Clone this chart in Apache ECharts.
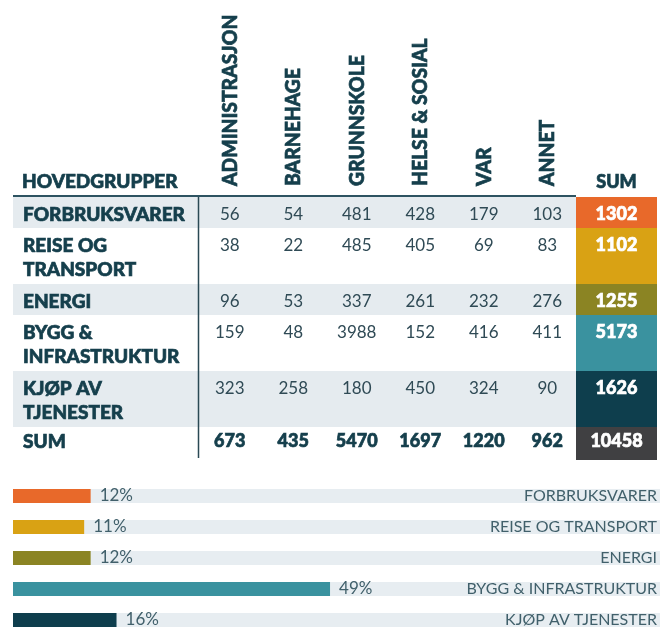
<!DOCTYPE html>
<html><head><meta charset="utf-8">
<script src="https://cdn.jsdelivr.net/npm/echarts@6/dist/echarts.min.js"></script>
<style>html,body{margin:0;padding:0;background:#fff}#c{width:661px;height:628px}</style>
</head><body><div id="c"></div>
<script>
// ---------- data ----------
const columns = ['ADMINISTRASJON', 'BARNEHAGE', 'GRUNNSKOLE', 'HELSE & SOSIAL', 'VAR', 'ANNET'];
const groups = ['FORBRUKSVARER', 'REISE OG TRANSPORT', 'ENERGI', 'BYGG & INFRASTRUKTUR', 'KJØP AV TJENESTER'];
const groupLabels = ['FORBRUKSVARER', 'REISE OG\nTRANSPORT', 'ENERGI', 'BYGG &\nINFRASTRUKTUR', 'KJØP AV\nTJENESTER'];
const forbruksvarer = [56, 54, 481, 428, 179, 103];
const reiseOgTransport = [38, 22, 485, 405, 69, 83];
const energi = [96, 53, 337, 261, 232, 276];
const byggInfrastruktur = [159, 48, 3988, 152, 416, 411];
const kjopAvTjenester = [323, 258, 180, 450, 324, 90];
const rowSums = [1302, 1102, 1255, 5173, 1626];
const columnSums = [673, 435, 5470, 1697, 1220, 962];
const grandTotal = 10458;
const sharePercent = [12, 11, 12, 49, 16];
const headerLabel = 'HOVEDGRUPPER';
const sumLabel = 'SUM';

// ---------- styles / layout ----------
const C = {
  orange: '#e8692a', gold: '#d9a214', olive: '#8b8423', teal: '#3a929f', navy: '#0e3e4d',
  gray: '#404042', band: '#e5ebef', track: '#e7edf1', ink: '#153f4c', num: '#2f4a55', soft: '#41606b'
};
const groupColors = [C.orange, C.gold, C.olive, C.teal, C.navy];
const T = {
  left: 13, sumLeft: 576, sumRight: 657, top: 197, colStart: 198, colWidth: 63.5,
  h1: 31, h2: 56, hSum: 33, firstLine: 17.5, sumLine: 14.5, lineH: 24,
  headerBase: 186, labelPad: 10, heavy: 0.7
};
const FONT = 'Lato, "Open Sans", sans-serif';
const heavyStyle = (fill) => ({ fill: fill, stroke: fill, lineWidth: T.heavy });

const rowValues = [forbruksvarer, reiseOgTransport, energi, byggInfrastruktur, kjopAvTjenester];
const rowLines = groupLabels.map(s => s.split('\n').length);
const rowHeights = rowLines.map(n => n > 1 ? T.h2 : T.h1).concat([T.hSum]);
const rowTops = [];
let acc = 0;
rowHeights.forEach(h => { rowTops.push(acc); acc += h; });
const tableHeight = acc;
const lineOffset = i => (i < groups.length ? T.firstLine : T.sumLine);

const cellData = [];
rowValues.concat([columnSums]).forEach((vals, r) => vals.forEach((v, c) => cellData.push([c, r, v])));

const chart = echarts.init(document.getElementById('c'), null, { renderer: 'canvas' });
chart.setOption({
  animation: false,
  grid: [
    { left: T.colStart, top: T.top, width: columns.length * T.colWidth, height: tableHeight },
    { left: 13, right: 1, top: 496, height: 124 }
  ],
  xAxis: [
    { gridIndex: 0, type: 'value', min: -0.5, max: columns.length - 0.5, show: false },
    { gridIndex: 1, type: 'value', min: 0, max: 100, show: false }
  ],
  yAxis: [
    { gridIndex: 0, type: 'value', min: 0, max: tableHeight, inverse: true, show: false },
    {
      gridIndex: 1, type: 'category', data: groups, inverse: true, position: 'right', z: 10, boundaryGap: false,
      axisLine: { show: false }, axisTick: { show: false }, splitLine: { show: false },
      axisLabel: { inside: true, margin: 3, color: C.soft, fontFamily: FONT, fontSize: 16, fontWeight: 400 }
    }
  ],
  series: [
    { // rows: band, label, sum cell
      type: 'custom', xAxisIndex: 0, yAxisIndex: 0, silent: true,
      data: groupLabels.concat([sumLabel]).map((l, i) => [i]),
      renderItem: function (params, api) {
        const i = params.dataIndex;
        const yTop = api.coord([0, rowTops[i]])[1];
        const h = api.size([0, rowHeights[i]])[1];
        const ty = yTop + lineOffset(i);
        const label = i < groups.length ? groupLabels[i] : sumLabel;
        const ch = [];
        if (i % 2 === 0 && i < groups.length) {
          ch.push({ type: 'rect', shape: { x: T.left, y: yTop, width: T.sumLeft - T.left, height: h }, style: { fill: C.band } });
        }
        ch.push({ type: 'text', style: Object.assign({ text: label, x: T.left + T.labelPad, y: ty - T.lineH / 2, verticalAlign: 'top', lineHeight: T.lineH, font: '900 19px ' + FONT }, heavyStyle(C.ink)) });
        ch.push({ type: 'rect', shape: { x: T.sumLeft, y: yTop, width: T.sumRight - T.sumLeft, height: h }, style: { fill: i < groups.length ? groupColors[i] : C.gray } });
        ch.push({ type: 'text', style: Object.assign({ text: String(i < groups.length ? rowSums[i] : grandTotal), x: (T.sumLeft + T.sumRight) / 2, y: ty, align: 'center', verticalAlign: 'middle', font: '900 18px ' + FONT }, heavyStyle('#ffffff')) });
        return { type: 'group', children: ch };
      }
    },
    { // value cells
      type: 'custom', xAxisIndex: 0, yAxisIndex: 0, silent: true, data: cellData,
      renderItem: function (params, api) {
        const c = api.value(0), r = api.value(1), v = api.value(2);
        const x = api.coord([c, 0])[0];
        const y = api.coord([0, rowTops[r]])[1] + lineOffset(r);
        const bold = r === groups.length;
        const base = { text: String(v), x: x, y: y, align: 'center', verticalAlign: 'middle', font: (bold ? '900 18px ' : '400 17px ') + FONT };
        return { type: 'text', style: Object.assign(base, bold ? heavyStyle(C.ink) : { fill: C.num }) };
      }
    },
    { // header labels + rules
      type: 'custom', xAxisIndex: 0, yAxisIndex: 0, silent: true,
      data: columns.map((c, i) => [i]),
      renderItem: function (params, api) {
        const i = params.dataIndex;
        const x = api.coord([i, 0])[0];
        const ch = [{ type: 'text', x: x, y: T.headerBase, rotation: Math.PI / 2, scaleX: 0.92,
          style: Object.assign({ text: columns[i], x: 0, y: 0, align: 'left', verticalAlign: 'middle', font: '900 21px ' + FONT }, heavyStyle(C.ink)) }];
        if (i === 0) {
          const y0 = api.coord([0, 0])[1];
          const y1 = api.coord([0, tableHeight])[1];
          const xd = api.coord([-0.5, 0])[0];
          ch.push({ type: 'line', shape: { x1: T.left, y1: y0 - 1, x2: T.sumLeft, y2: y0 - 1 }, style: { stroke: '#2d5361', lineWidth: 2 } });
          ch.push({ type: 'line', shape: { x1: xd + 0.5, y1: y0, x2: xd + 0.5, y2: y1 - 2 }, style: { stroke: '#2a4954', lineWidth: 1.5 } });
          ch.push({ type: 'text', style: Object.assign({ text: headerLabel, x: T.left + 9, y: y0 - 15, verticalAlign: 'middle', font: '900 19px ' + FONT }, heavyStyle(C.ink)) });
          ch.push({ type: 'text', style: Object.assign({ text: sumLabel, x: (T.sumLeft + T.sumRight) / 2, y: y0 - 15, align: 'center', verticalAlign: 'middle', font: '900 18px ' + FONT }, heavyStyle(C.ink)) });
        }
        return { type: 'group', children: ch };
      }
    },
    { // share bars
      type: 'bar', xAxisIndex: 1, yAxisIndex: 1, barWidth: 14, silent: true,
      data: sharePercent.map((v, i) => ({ value: v, itemStyle: { color: groupColors[i] } })),
      showBackground: true, backgroundStyle: { color: C.track },
      label: { show: true, position: 'right', distance: 9, formatter: '{c}%', color: C.soft, fontFamily: FONT, fontSize: 17, fontWeight: 400 }
    }
  ]
});
</script></body></html>
